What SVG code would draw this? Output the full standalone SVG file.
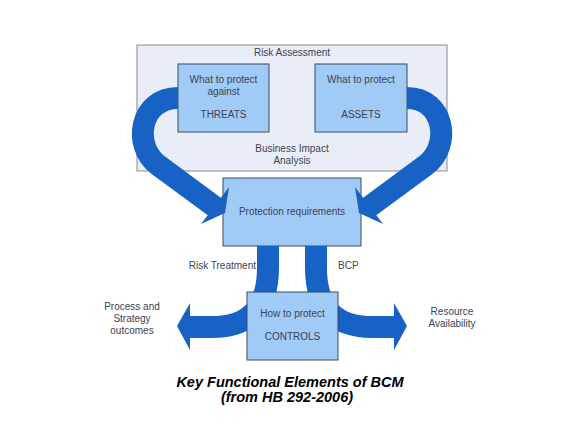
<svg xmlns="http://www.w3.org/2000/svg" width="580" height="435" viewBox="0 0 580 435">
<style>
.box{fill:#9fcbf6;stroke:#3b4a5e;stroke-width:1}
.t{font-family:"Liberation Sans",Arial,sans-serif;font-size:10px;fill:#3c4354}
.c{text-anchor:middle}
.shaft{fill:none;stroke:#1862c6;stroke-width:22;stroke-linejoin:round}
.head{fill:#1862c6}
.title{font-family:"Liberation Sans",Arial,sans-serif;font-size:14.5px;font-weight:bold;font-style:italic;fill:#000;text-anchor:middle}
</style>
<rect width="580" height="435" fill="#ffffff"/>
<g id="risk-assessment">
<rect x="137" y="45" width="310" height="126" fill="#e9edf7" stroke="#8a8a8a" stroke-width="1"/>
<text class="t c" x="292" y="56">Risk Assessment</text>
<text class="t c" x="292" y="152">Business Impact</text>
<text class="t c" x="292" y="164">Analysis</text>
</g>
<g id="threats">
<rect class="box" x="178" y="64" width="91" height="68"/>
<text class="t c" x="223.5" y="83">What to protect</text>
<text class="t c" x="223.5" y="95">against</text>
<text class="t c" x="223.5" y="118">THREATS</text>
</g>
<g id="assets">
<rect class="box" x="315" y="64" width="92" height="68"/>
<text class="t c" x="361" y="83">What to protect</text>
<text class="t c" x="361" y="118">ASSETS</text>
</g>
<g id="protection">
<rect class="box" x="223" y="178" width="138" height="68"/>
<text class="t c" x="292" y="215">Protection requirements</text>
</g>
<g id="connectors">
<path class="shaft" d="M 178 98 C 140 98 132 145 158 165 L 215 207"/>
<polygon class="head" points="229,187 225,213 201,224"/>
<path class="shaft" d="M 407 98 C 444 98 452 145 426 165 L 369 207"/>
<polygon class="head" points="355,187 359,213 383,224"/>
<path class="shaft" d="M 268 246 L 268 268 Q 268 327 212 327 L 189 327"/>
<polygon class="head" points="190,303 177,326 190,350"/>
<path class="shaft" d="M 316 246 L 316 268 Q 316 327 372 327 L 395 327"/>
<polygon class="head" points="394,303 407,326 394,350"/>
</g>
<g id="controls">
<rect class="box" x="247" y="292" width="91" height="68"/>
<text class="t c" x="292.5" y="317">How to protect</text>
<text class="t c" x="292.5" y="340">CONTROLS</text>
</g>
<g id="labels">
<text class="t" x="256" y="269" text-anchor="end">Risk Treatment</text>
<text class="t" x="338" y="269">BCP</text>
<text class="t c" x="132" y="310">Process and</text>
<text class="t c" x="132" y="322">Strategy</text>
<text class="t c" x="132" y="334">outcomes</text>
<text class="t c" x="452" y="315">Resource</text>
<text class="t c" x="452" y="327">Availability</text>
</g>
<g id="title">
<text class="title" x="290" y="387">Key Functional Elements of BCM</text>
<text class="title" x="287" y="402">(from HB 292-2006)</text>
</g>
</svg>
